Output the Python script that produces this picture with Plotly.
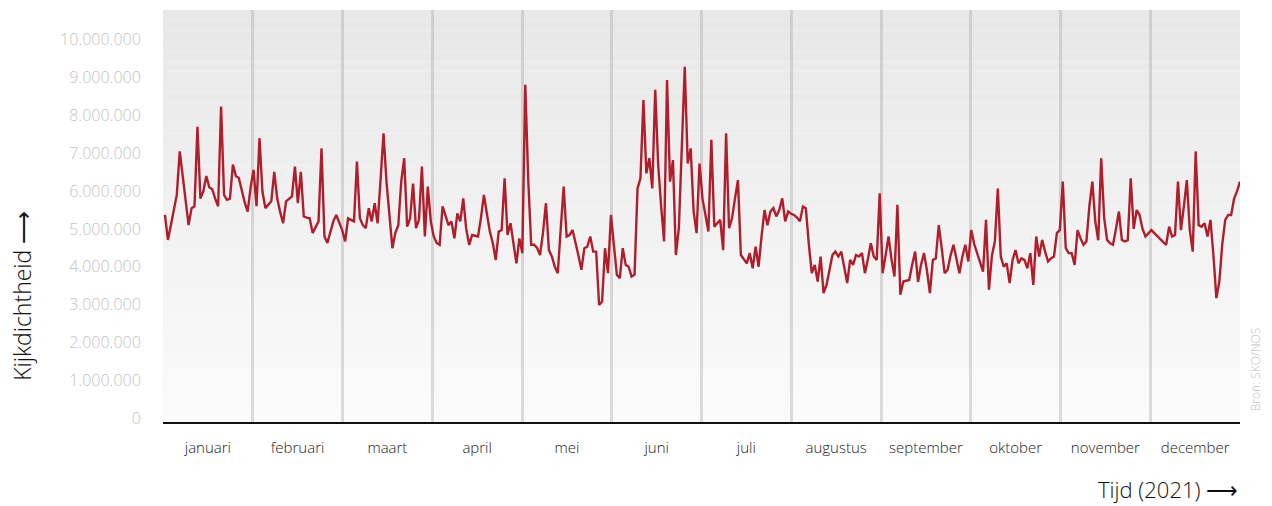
import plotly.graph_objects as go
import pandas as pd

# ---- data (daily TV viewing figures, millions) ----
months_nl = ["januari", "februari", "maart", "april", "mei", "juni", "juli",
             "augustus", "september", "oktober", "november", "december"]

jan = [5.37, 4.71, 5.1, 5.5, 5.9, 7.05, 6.4, 5.9, 5.1, 5.55, 5.6, 7.7, 5.8, 6.0, 6.4, 6.1,
       6.05, 5.8, 5.6, 8.24, 5.9, 5.77, 5.8, 6.7, 6.4, 6.35, 6.0, 5.7, 5.46, 6.1, 6.56]
feb = [5.6, 7.4, 5.99, 5.55, 5.65, 5.73, 6.51, 5.81, 5.45, 5.15, 5.73, 5.8, 5.86, 6.65,
       5.68, 6.51, 5.33, 5.3, 5.28, 4.89, 5.05, 5.2, 7.13, 4.8, 4.63, 4.95, 5.2, 5.37]
mar = [5.15, 4.97, 4.67, 5.28, 5.24, 5.2, 6.78, 5.28, 5.1, 5.02, 5.55, 5.2, 5.68, 5.15,
       6.3, 7.53, 6.25, 5.4, 4.49, 4.9, 5.1, 6.25, 6.87, 5.06, 5.28, 6.2, 5.02, 5.24, 6.65,
       4.8, 6.12]
apr = [5.2, 4.8, 4.63, 4.58, 5.6, 5.37, 5.1, 5.2, 4.75, 5.41, 5.2, 5.81, 5.0, 4.58, 4.84,
       4.82, 4.8, 5.3, 5.9, 5.4, 4.93, 4.63, 4.18, 4.93, 4.97, 6.34, 4.84, 5.15, 4.67, 4.09]
may = [4.75, 4.36, 8.81, 6.3, 4.58, 4.58, 4.5, 4.31, 4.9, 5.68, 4.44, 4.27, 4.0, 3.83,
       5.0, 6.12, 4.8, 4.84, 4.97, 4.67, 4.3, 3.92, 4.49, 4.53, 4.8, 4.4, 4.4, 2.99, 3.08,
       4.49, 3.83]
jun = [5.37, 4.67, 3.79, 3.7, 4.49, 4.05, 4.0, 3.74, 3.79, 6.07, 6.34, 8.41, 6.47, 6.87,
       6.07, 8.68, 6.69, 5.6, 4.67, 8.94, 6.25, 6.82, 4.31, 5.02, 7.0, 9.29, 6.73, 7.13,
       5.46, 4.89]
jul = [6.73, 5.8, 5.37, 4.93, 7.36, 5.06, 5.15, 5.24, 4.44, 7.53, 5.02, 5.28, 5.8, 6.29,
       4.31, 4.2, 4.09, 4.36, 3.96, 4.53, 4.0, 4.8, 5.5, 5.1, 5.46, 5.55, 5.33, 5.5, 5.81,
       5.2, 5.46]
aug = [5.4, 5.37, 5.3, 5.2, 5.59, 5.55, 4.6, 3.83, 4.05, 3.61, 4.27, 3.3, 3.52, 3.9, 4.31,
       4.4, 4.27, 4.4, 4.0, 3.57, 4.18, 4.05, 4.31, 4.27, 4.36, 3.83, 4.2, 4.62, 4.27, 4.18,
       5.94]
sep = [3.83, 4.3, 4.8, 4.2, 3.74, 5.64, 3.26, 3.61, 3.63, 3.65, 4.05, 4.4, 3.6, 4.05, 4.36,
       3.9, 3.3, 4.18, 4.22, 5.1, 4.49, 3.83, 3.92, 4.3, 4.58, 4.22, 3.83, 4.27, 4.58, 4.14]
oct_ = [4.97, 4.6, 4.36, 4.14, 3.87, 5.24, 3.39, 4.3, 4.67, 6.07, 4.27, 4.0, 4.09, 3.57,
        4.18, 4.44, 4.09, 4.22, 4.18, 3.96, 4.36, 3.52, 4.8, 4.27, 4.71, 4.4, 4.14, 4.22,
        4.27, 4.89, 4.97]
nov = [6.25, 4.49, 4.36, 4.36, 4.05, 4.97, 4.75, 4.58, 4.67, 5.6, 6.25, 5.2, 4.7, 6.87,
       5.3, 4.71, 4.62, 4.58, 5.0, 5.46, 4.71, 4.67, 4.7, 6.34, 5.0, 5.5, 5.37, 5.0, 4.8,
       4.9]
dec = [4.97, 4.89, 4.8, 4.71, 4.65, 4.58, 5.06, 4.8, 4.84, 6.25, 4.97, 5.6, 6.29, 4.97,
       4.4, 7.05, 5.1, 5.06, 5.15, 4.8, 5.24, 4.31, 3.17, 3.61, 4.6, 5.24, 5.37, 5.37, 5.8,
       6.0, 6.25]

y_ticks = list(range(0, 10_000_001, 1_000_000))

values_m = jan + feb + mar + apr + may + jun + jul + aug + sep + oct_ + nov + dec
viewers = [round(v * 1_000_000) for v in values_m]
dates = pd.date_range("2021-01-01", periods=len(viewers), freq="D")

# ---- axis geometry ----
x_start = pd.Timestamp("2021-01-01") - pd.Timedelta(hours=16)
x_end = dates[-1]
span = x_end - x_start
grid_vals = [x_start + span * k / 12 for k in range(1, 12)]
label_vals = [x_start + span * (k + 0.5) / 12 for k in range(12)]

fig = go.Figure()
fig.add_trace(go.Scatter(
    x=dates, y=viewers, mode="lines",
    line=dict(color="#b01e2c", width=2.4),
    hoverinfo="x+y", showlegend=False,
))

# gradient background of the plot area
n = 40
shapes = []
for i in range(n):
    t = i / (n - 1)
    c = int(232 + (251 - 232) * (1 - t))
    shapes.append(dict(type="rect", xref="paper", yref="paper",
                       x0=0, x1=1, y0=i / n, y1=(i + 1) / n,
                       fillcolor=f"rgb({c},{c},{c})", line=dict(width=0),
                       layer="below"))

font_main = "'Open Sans', Lato, sans-serif"

fig.update_layout(
    width=1272, height=506,
    margin=dict(l=163, r=32, t=10, b=84),
    paper_bgcolor="white", plot_bgcolor="white",
    separators=",.",
    shapes=shapes,
    font=dict(family=font_main, color="#222"),
    xaxis=dict(
        type="date", range=[x_start, x_end],
        tickmode="array", tickvals=label_vals, ticktext=months_nl,
        ticks="outside", ticklen=11, tickcolor="rgba(0,0,0,0)",
        tickfont=dict(size=15, color="#1a1a1a", family=font_main, weight=300),
        showgrid=False, zeroline=False,
        showline=True, linecolor="#111", linewidth=1.5,
        minor=dict(tickmode="array", tickvals=grid_vals, showgrid=True,
                   gridcolor="rgba(165,165,165,0.38)", gridwidth=3, ticks=""),
    ),
    yaxis=dict(
        range=[-106_000, 10_790_000],
        tickmode="array", tickvals=y_ticks, tickformat=",d",
        ticks="outside", ticklen=18, tickcolor="rgba(0,0,0,0)",
        tickfont=dict(size=16, color="#c2c2c2", family=font_main, weight=300),
        showgrid=False, zeroline=False, showline=False,
    ),
    annotations=[
        dict(text="Kijkdichtheid ⟶", xref="paper", yref="paper",
             x=-0.131, y=0.306, xanchor="center", yanchor="middle",
             textangle=-90, showarrow=False,
             font=dict(size=23, color="#111", family=font_main, weight=300)),
        dict(text="Tijd (2021) ⟶", xref="paper", yref="paper",
             x=1.0, y=-0.163, xanchor="right", yanchor="middle",
             showarrow=False,
             font=dict(size=22, color="#111", family=font_main, weight=300)),
        dict(text="Bron: SKO/NOS", xref="paper", yref="paper",
             x=1.014, y=0.126, xanchor="center", yanchor="middle",
             textangle=-90, showarrow=False,
             font=dict(size=12, color="#bdbdbd", family=font_main, weight=300)),
    ],
)

fig.write_html("out.html",
               config={"displayModeBar": False},
               post_script="document.body.style.margin='0';"
                           "document.body.style.overflow='hidden';")
